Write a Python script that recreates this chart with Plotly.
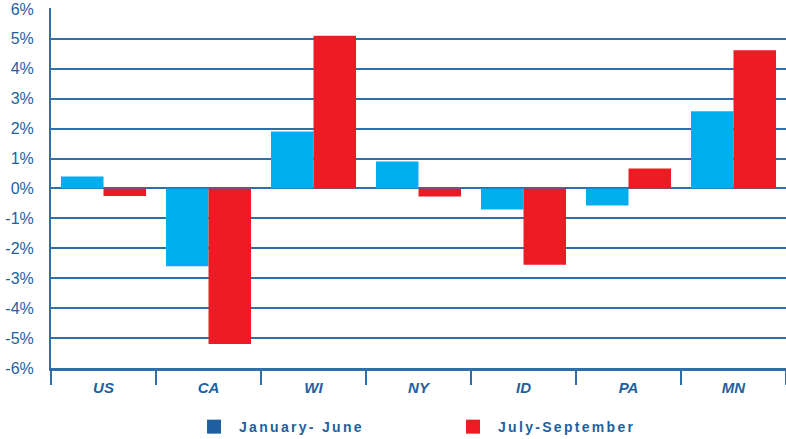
import plotly.graph_objects as go

categories = ["US", "CA", "WI", "NY", "ID", "PA", "MN"]
jan_june = [0.4, -2.6, 1.9, 0.9, -0.7, -0.57, 2.58]
jul_sep = [-0.25, -5.2, 5.1, -0.27, -2.55, 0.67, 4.62]
y_ticks = [-6, -5, -4, -3, -2, -1, 0, 1, 2, 3, 4, 5, 6]
y_labels = [f"{v}%" for v in y_ticks]

TEXT = "#1F5FA0"
GRID = "#2F6EA8"
BLUE = "#00AEEF"
RED = "#ED1C24"

fig = go.Figure()
fig.add_trace(go.Bar(x=categories, y=jan_june, marker=dict(color=BLUE, line=dict(width=0)),
                     showlegend=False, name="January- June"))
fig.add_trace(go.Bar(x=categories, y=jul_sep, marker=dict(color=RED, line=dict(width=0)),
                     showlegend=False, name="July-September"))
# legend swatches
fig.add_trace(go.Scatter(x=[None], y=[None], mode="markers", name="January- June",
                         marker=dict(symbol="square", size=14, color="#1F5FA0")))
fig.add_trace(go.Scatter(x=[None], y=[None], mode="markers", name="July-September",
                         marker=dict(symbol="square", size=14, color=RED)))

fig.update_layout(
    width=786, height=439,
    margin=dict(l=51, r=0, t=8, b=71, autoexpand=False),
    paper_bgcolor="white", plot_bgcolor="white",
    barmode="group", bargap=0.19, bargroupgap=0,
    font=dict(family="Liberation Sans, Arial, sans-serif", color=TEXT),
    legend=dict(orientation="h", x=0.1946, xanchor="left", y=-0.164, yanchor="middle",
                entrywidth=214, entrywidthmode="pixels",
                font=dict(size=14, color=TEXT, family="Liberation Sans, Arial, sans-serif", weight="bold"),
                itemwidth=30),
    xaxis=dict(
        type="category", categoryorder="array", categoryarray=categories,
        range=[-0.5, 6.5], automargin=False,
        showline=True, linecolor=GRID, linewidth=3,
        ticks="outside", tickson="boundaries", ticklen=14, tickwidth=2, tickcolor=GRID,
        tickfont=dict(size=15, color=TEXT, family="Liberation Sans, Arial, sans-serif",
                      weight="bold", style="italic"),
        ticklabelstandoff=4,
        showgrid=False,
    ),
    yaxis=dict(
        range=[-6, 6.03], tickvals=y_ticks, ticktext=y_labels, automargin=False,
        showgrid=True, gridcolor=GRID, gridwidth=2,
        zeroline=True, zerolinecolor=GRID, zerolinewidth=2,
        showline=True, linecolor=GRID, linewidth=2,
        ticks="outside", ticklen=0, tickfont=dict(size=16, color=TEXT),
        ticklabelstandoff=12,
    ),
)

post = """
document.body.style.margin='0';
document.querySelectorAll('.legendtext').forEach(function(e){
  e.style.letterSpacing='2.3px';
  e.setAttribute('x', parseFloat(e.getAttribute('x')) + 5);
});
"""

fig.write_html("out.html", post_script=post, config={"displayModeBar": False})
